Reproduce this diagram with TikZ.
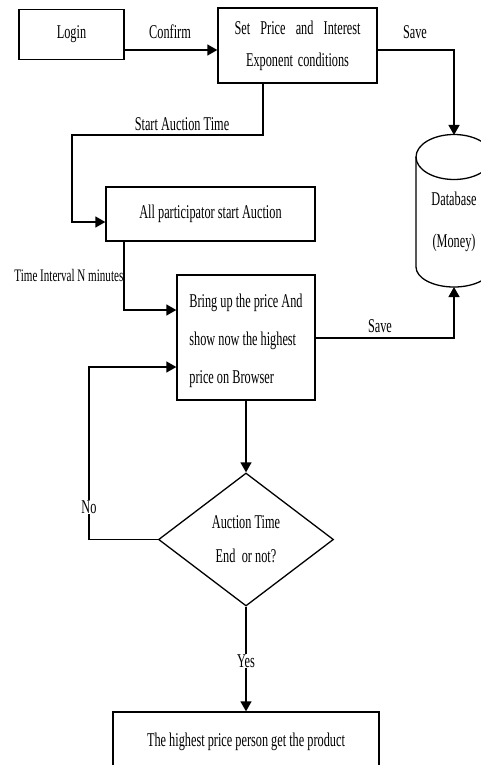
\documentclass[tikz,border=0pt]{standalone}
\usepackage{fontspec}
\setmainfont{Liberation Serif}[FakeStretch=0.63]
\usetikzlibrary{arrows.meta,shapes.geometric,calc}
\newcommand\txt{\fontsize{19.5}{22}\selectfont}
\newcommand\smalltxt{\fontsize{17.6}{20}\selectfont}
\begin{document}
\begin{tikzpicture}[x=1pt,y=-1pt,line width=1.3pt,
  box/.style={draw,rectangle,inner sep=0pt,font=\txt},
  lbl/.style={inner sep=1pt,font=\txt},
  arr/.style={-{Triangle[length=10pt,width=11pt]}}]
\useasboundingbox (0,0) rectangle (481,765);

% process boxes
\node[box,minimum width=105pt,minimum height=50pt] (login) at (71.5,34.5) {Login};
\node[box,minimum width=159pt,minimum height=75pt,align=center,
      font=\fontsize{19.5}{32}\selectfont] (setp) at (297.5,45.5)
  {\makebox[126pt][s]{Set Price and Interest}\\\makebox[103pt][s]{Exponent conditions}};
\node[box,minimum width=209pt,minimum height=54pt] (allp) at (210.5,214) {All participator start Auction};
\node[box,minimum width=138pt,minimum height=125pt] (bring) at (246,337.5) {};
\node[inner sep=0pt,align=left,font=\fontsize{19.5}{38}\selectfont] (bringtxt)
  at ([yshift=-3.5pt]bring.center)
  {Bring up the price And\\show now the highest\\price on Browser};
\node[draw,diamond,aspect=1.3,minimum width=175pt,minimum height=133pt,inner sep=0pt,
      align=center,font=\fontsize{19.5}{34}\selectfont] (dec) at (246,539.5)
  {Auction Time\\End\, or not?};
\node[box,minimum width=266pt,minimum height=60pt] (fin) at (246,742)
  {The highest price person get the product};

% database cylinder
\draw (416,157) -- (416,267) arc[start angle=180,end angle=360,x radius=38pt,y radius=20pt] -- (492,157);
\draw (454,157) ellipse [x radius=38pt,y radius=22.5pt];
\coordinate (dbtop) at (454,135);
\coordinate (dbbot) at (454,287);
\node[lbl] (dbname) at (454,199) {Database};
\node[lbl] (dbmoney) at (454,243) {(Money)};

% connectors
\draw[arr] ([yshift=-15.5pt]login.east) -- ([yshift=-15.5pt]login.east -| setp.west);
\node[lbl] (lconfirm) at (170,32) {Confirm};

\draw[arr] ([yshift=-4.5pt]setp.east) -| (dbtop);
\node[lbl] (lsave1) at (415,32) {Save};

\draw[arr] ([xshift=-34.5pt]setp.south) |- (72,135) |- ([yshift=-8pt]allp.west);
\node[lbl] (lstart) at (182,124) {Start Auction Time};

\draw[arr] ([xshift=-86.5pt]allp.south) |- ([yshift=27.5pt]bring.west);
\node[inner sep=0pt,anchor=east,font=\smalltxt] (linterval) at (124,275) {Time Interval N minutes};

\draw[arr] ([yshift=-0.5pt]bring.east) -| (dbbot);
\node[lbl] (lsave2) at (380,326) {Save};

\draw[arr] (bring.south) -- (dec.north);

\draw[arr] (dec.west) -| (89,367) -- ([yshift=-29.5pt]bring.west);
\node[lbl,fill=white] (lno) at (89,507) {No};

\draw[arr] (dec.south) -- (fin.north);
\node[lbl,fill=white] (lyes) at (246,661) {Yes};
\end{tikzpicture}
\end{document}
